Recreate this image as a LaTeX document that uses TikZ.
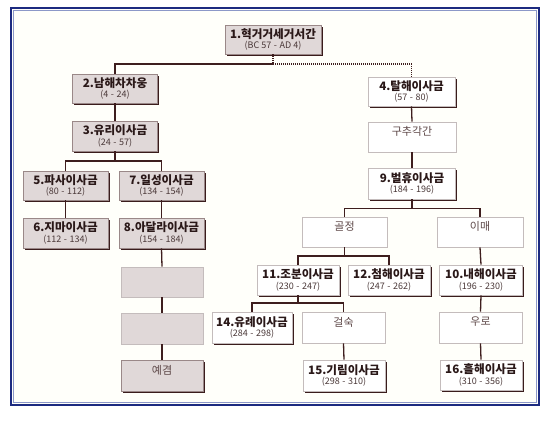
\documentclass[tikz,border=0pt]{standalone}
\usepackage{fontspec}
\setmainfont{Noto Sans CJK KR}
\usetikzlibrary{shadows}
\definecolor{gfill}{HTML}{E0D8D8}
\definecolor{gdraw}{HTML}{9A8888}
\definecolor{wdraw}{HTML}{C4BCBC}
\definecolor{shc}{HTML}{3A1C1C}
\definecolor{txt}{HTML}{2A1818}
\definecolor{ytxt}{HTML}{4A3838}
\definecolor{lbl}{HTML}{5E4848}
\definecolor{lnc}{HTML}{3E1E1E}
\definecolor{navy}{HTML}{1C2A80}
\definecolor{frm}{HTML}{8C98C8}
\newcommand{\tf}{\bfseries\fontsize{11.6}{12}\selectfont}
\newcommand{\yf}{\fontsize{9}{9.5}\selectfont}
\newcommand{\hy}{\hspace{2.6pt}-\hspace{2.6pt}}
\newcommand{\bx}[2]{{\tf #1}\\[-1.8pt]{\yf\color{ytxt}#2}}
\newcommand{\lb}[1]{{\fontsize{11}{12}\selectfont #1}\\[-1.8pt]{\yf\phantom{(0)}}}
\begin{document}
\begin{tikzpicture}[x=1pt,y=-1pt,
  base/.style={rectangle, inner sep=0pt, align=center, text=txt, line width=0.6pt},
  sz/.style 2 args={minimum width=#1pt, minimum height=#2pt},
  shad/.style={drop shadow={shadow xshift=1.7pt, shadow yshift=-1.7pt, fill=shc, opacity=1}},
  gbox/.style={base, fill=gfill, draw=gdraw, shad},
  wbox/.style={base, fill=white, draw=wdraw, shad},
  lbox/.style={base, fill=white, draw=wdraw, text=lbl},
  blankbox/.style={base, fill=gfill, draw=wdraw},
  conn/.style={draw=lnc, line width=1.3pt},
  dotc/.style={draw=lnc, line width=1.1pt, dash pattern=on 1pt off 1pt}
]
\fill[white] (0,0) rectangle (551,430);
\useasboundingbox (0,0) rectangle (551,430);
\fill[white!98!yellow] (11,8) rectangle (539,405);
\draw[navy, line width=1.8pt] (11,8) rectangle (539,405);
\draw[frm, line width=0.6pt] (13.3,10.3) rectangle (536.7,402.7);

% left branch
\node[gbox, sz={96}{29}] (b1) at (273,39.5) {\bx{1.혁거거세거서간}{(BC 57\hy AD 4)}};
\node[gbox, sz={85}{29}] (b2) at (115,88.5) {\bx{2.남해차차웅}{(4\hy 24)}};
\node[gbox, sz={85}{30}] (b3) at (115,136) {\bx{3.유리이사금}{(24\hy 57)}};
\node[gbox, sz={85}{29}] (b5) at (65.5,185.5) {\bx{5.파사이사금}{(80\hy 112)}};
\node[gbox, sz={85}{29}] (b7) at (161.5,185.5) {\bx{7.일성이사금}{(134\hy 154)}};
\node[gbox, sz={85}{30}] (b6) at (65.5,233) {\bx{6.지마이사금}{(112\hy 134)}};
\node[gbox, sz={85}{30}] (b8) at (161.5,233) {\bx{8.아달라이사금}{(154\hy 184)}};
\node[blankbox, sz={82}{30}] (k1) at (162,282) {};
\node[blankbox, sz={82}{31}] (k2) at (162,328.5) {};
\node[gbox, sz={82}{31}, text=lbl] (ye) at (162,375.5) {\lb{예겸}};

% right branch
\node[wbox, sz={87}{29}] (b4) at (411.5,91.5) {\bx{4.탈해이사금}{(57\hy 80)}};
\node[lbox, sz={88}{30}] (gc) at (412,137) {\lb{구추각간}};
\node[wbox, sz={87}{31}] (b9) at (412,183.5) {\bx{9.벌휴이사금}{(184\hy 196)}};
\node[lbox, sz={85}{30}] (gj) at (344.5,232) {\lb{골정}};
\node[lbox, sz={86}{30}] (im) at (480,232) {\lb{이매}};
\node[wbox, sz={82}{30}] (b11) at (298,280) {\bx{11.조분이사금}{(230\hy 247)}};
\node[wbox, sz={82}{30}] (b12) at (389,280) {\bx{12.첨해이사금}{(247\hy 262)}};
\node[wbox, sz={83}{30}] (b10) at (481,280) {\bx{10.내해이사금}{(196\hy 230)}};
\node[wbox, sz={80}{31}] (b14) at (252,327.5) {\bx{14.유례이사금}{(284\hy 298)}};
\node[lbox, sz={83}{31}] (gs) at (343.5,327.5) {\lb{걸숙}};
\node[wbox, sz={82}{31}] (b15) at (344,375.5) {\bx{15.기림이사금}{(298\hy 310)}};
\node[lbox, sz={83}{31}] (ur) at (480.5,327.5) {\lb{우로}};
\node[wbox, sz={82}{30}] (b16) at (481,375) {\bx{16.흘해이사금}{(310\hy 356)}};

% connectors
\coordinate (j1) at (b1.south |- 0,64);
\draw[conn] (j1) -| (b2.north);
\draw[dotc] (b1.south) -- (j1) -| (b4.north);
\draw[conn] (b2.south) -- (b3.north);
\coordinate (j3) at (b3.south |- 0,161);
\draw[conn] (b3.south) -- (j3);
\draw[conn] (j3) -| (b5.north);
\draw[conn] (j3) -| (b7.north);
\draw[conn] (b5.south) -- (b6.north);
\draw[conn] (b7.south) -- (b8.north);
\draw[conn] (b8.south) -- (k1.north);
\draw[conn] (k1.south) -- (k2.north);
\draw[conn] (k2.south) -- (ye.north);
\draw[conn] (b4.south) -- (gc.north);
\draw[conn] (gc.south) -- (b9.north);
\coordinate (j9) at (b9.south |- 0,208.5);
\draw[conn] (b9.south) -- (j9);
\draw[conn] (j9) -| (gj.north);
\draw[conn] (j9) -| (im.north);
\coordinate (jg) at (gj.south |- 0,256);
\draw[conn] (gj.south) -- (jg);
\draw[conn] (jg) -| (b11.north);
\draw[conn] (jg) -| (b12.north);
\draw[conn] (im.south) -- (b10.north);
\coordinate (j11) at (b11.south |- 0,303);
\draw[conn] (b11.south) -- (j11);
\draw[conn] (j11) -| (b14.north);
\draw[conn] (j11) -| (gs.north);
\draw[conn] (gs.south) -- (b15.north);
\draw[conn] (b10.south) -- (ur.north);
\draw[conn] (ur.south) -- (b16.north);
\end{tikzpicture}
\end{document}
